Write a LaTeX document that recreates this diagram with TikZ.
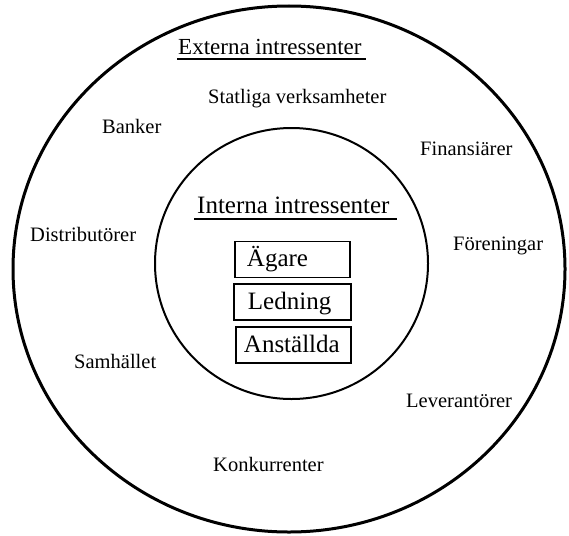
\documentclass[tikz,border=0pt]{standalone}
\usepackage{fontspec}
\setmainfont{Liberation Serif}
\usetikzlibrary{shapes.geometric}
\begin{document}
\begin{tikzpicture}[x=1pt,y=-1pt,
  lbl/.style={anchor=base west,inner sep=0pt,font=\fontsize{20.5}{22}\selectfont},
  head/.style={anchor=base west,inner sep=0pt,font=\fontsize{25}{27}\selectfont},
  uline/.style={line width=2.6pt},
  box/.style={draw,line width=1.9pt,anchor=west,align=left,minimum height=36pt,
    text height=19.5pt,text depth=5.5pt,inner ysep=0pt,font=\fontsize{25}{27}\selectfont}]
\useasboundingbox (0,0) rectangle (569,535);
% circles
\node[draw,line width=3pt,ellipse,minimum width=552pt,minimum height=526pt,inner sep=0pt] (outer) at (289,269) {};
\node[draw,line width=2pt,ellipse,minimum width=273pt,minimum height=271pt,inner sep=0pt] (inner) at (291.5,263.5) {};
% headings
\node[head,font=\fontsize{23}{25}\selectfont] (ext) at (178,55) {Externa intressenter};
\coordinate (eu1) at (177,59);
\coordinate (eu2) at (366,59);
\draw[uline] (eu1) -- (eu2);
\node[head] (int) at (197,213) {Interna intressenter};
\coordinate (iu1) at (194,219);
\coordinate (iu2) at (397,219);
\draw[uline] (iu1) -- (iu2);
% external stakeholders
\node[lbl] (stat) at (208,103) {Statliga verksamheter};
\node[lbl] (bank) at (102,133) {Banker};
\node[lbl] (fin) at (420,155) {Finansiärer};
\node[lbl] (dist) at (30,241) {Distributörer};
\node[lbl] (foren) at (453,250) {Föreningar};
\node[lbl] (samh) at (74,368) {Samhället};
\node[lbl] (lev) at (406,407) {Leverantörer};
\node[lbl] (konk) at (213,471) {Konkurrenter};
% internal stakeholders
\node[box,inner xsep=12pt,text width=91pt] (agare) at (234,259.5) {Ägare};
\node[box,inner xsep=14pt,text width=89pt] (ledn) at (233,302) {Ledning};
\node[box,inner xsep=8pt,text width=99pt] (anst) at (235,345) {Anställda};
\end{tikzpicture}
\end{document}
